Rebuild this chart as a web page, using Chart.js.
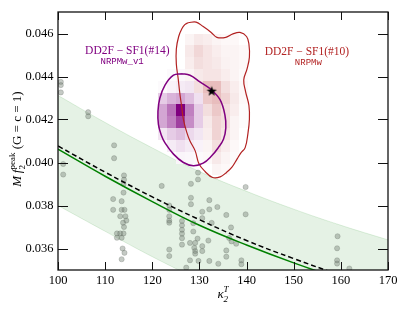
<!DOCTYPE html>
<html>
<head>
<meta charset="utf-8">
<script src="https://cdn.jsdelivr.net/npm/chart.js@4.4.0/dist/chart.umd.min.js"></script>
<style>
  html, body { margin: 0; padding: 0; background: #fff; }
</style>
</head>
<body>
<canvas id="myChart" width="407" height="309"></canvas>
<script>
// axis ticks
const xTicks = [100, 110, 120, 130, 140, 150, 160, 170];
const yTicks = [0.036, 0.038, 0.040, 0.042, 0.044, 0.046];

// fit curves, read at kappa = 100..170
const kappa = [100, 110, 120, 130, 140, 150, 160, 170];
const fitGreen = [0.04062, 0.03936, 0.03818, 0.03708, 0.03616, 0.03533, 0.03458, 0.0339];
const fitDashed = [0.04077, 0.03955, 0.03840, 0.03734, 0.03637, 0.03553, 0.03475, 0.0340];
const bandUpper = [0.04312, 0.04186, 0.04068, 0.03958, 0.03866, 0.03783, 0.03708, 0.0364];
const bandLower = [0.0380, 0.0368, 0.03562, 0.03455, 0.0336, 0.0328, 0.0320, 0.0314];

// simulation points
const simX = [100.6, 100.6, 100.6, 106.4, 106.4, 101.1, 101.1,
  111.9, 111.9, 114.0, 114.0, 113.9, 113.9, 111.7, 113.5, 111.7, 113.5, 114.1, 113.2, 114.3, 114.5, 113.8, 114.0,
  112.5, 113.2, 113.9, 112.5, 113.5, 113.7, 114.1, 113.5,
  122.0, 129.7, 129.7, 128.2, 128.2, 128.2, 132.1, 132.1, 133.8,
  123.6, 123.6, 123.6, 123.6, 123.6, 130.6, 130.6,
  126.3, 126.3, 126.3, 126.3, 126.3, 126.3, 128.7, 128.7, 132.6, 135.7, 136.7, 139.8, 139.8,
  129.6, 128.0, 129.1, 128.9, 129.1, 129.1, 130.6, 130.6, 131.9, 123.6, 123.6,
  136.3, 136.8, 137.8, 135.7, 135.7, 128.0, 129.8, 132.1, 134.0, 127.2, 138.9, 138.9,
  159.3, 159.2, 159.2, 159.2, 161.8];
const simY = [0.04375, 0.04360, 0.04326, 0.04234, 0.04215, 0.03993, 0.03944,
  0.0408, 0.0402, 0.0394, 0.0392, 0.0390, 0.0386, 0.0383, 0.0382, 0.0378, 0.0378, 0.0378, 0.0375, 0.0375, 0.0373, 0.0372, 0.0370,
  0.0367, 0.0367, 0.0367, 0.0365, 0.0365, 0.0360, 0.0358, 0.0355,
  0.03891, 0.03953, 0.03921, 0.03901, 0.03836, 0.03806, 0.03825, 0.03782, 0.03793,
  0.0380, 0.0378, 0.0375, 0.0373, 0.0372, 0.03771, 0.03741,
  0.03728, 0.03708, 0.03687, 0.03669, 0.03648, 0.03618, 0.03718, 0.03679, 0.03719, 0.03756, 0.03698, 0.03886, 0.03759,
  0.03646, 0.03626, 0.03626, 0.03603, 0.03588, 0.03576, 0.03611, 0.03588, 0.03637, 0.03595, 0.03565,
  0.03649, 0.03633, 0.03622, 0.03591, 0.03562, 0.03545, 0.03542, 0.03542, 0.03529, 0.03511, 0.03545, 0.03527,
  0.03657, 0.03601, 0.03545, 0.03530, 0.03507];

// 2D histogram bins (edges)
const binX = [121.3, 123.2, 125.1, 127.0, 128.9, 130.8, 132.7, 134.6, 136.5, 138.4, 140.3];
const binY = [0.04655, 0.046, 0.04545, 0.0449, 0.04435, 0.0438, 0.04325, 0.0427, 0.04215, 0.0416, 0.04105, 0.0405, 0.03995, 0.0394];

const histV1 = [
  [0, 0, 0, 0, 0, 0, 0, 0, 0, 0],
  [0, 0, 0, 0, 0, 0, 0, 0, 0, 0],
  [0, 0, 0, 0, 0, 0, 0, 0, 0, 0],
  [0, 0, 0, 0, 0, 0, 0, 0, 0, 0],
  [0, 0.02, 0.03, 0.03, 0.02, 0, 0, 0, 0, 0],
  [0.02, 0.05, 0.08, 0.1, 0.05, 0.03, 0, 0, 0, 0],
  [0.2, 0.3, 0.35, 0.25, 0.12, 0, 0, 0, 0, 0],
  [0.35, 0.55, 1.0, 0.5, 0.2, 0.08, 0, 0, 0, 0],
  [0.35, 0.5, 0.75, 0.45, 0.2, 0.08, 0.03, 0, 0, 0],
  [0.1, 0.2, 0.25, 0.15, 0.1, 0.05, 0.02, 0, 0, 0],
  [0, 0.08, 0.12, 0.08, 0.05, 0.03, 0.02, 0, 0, 0],
  [0, 0, 0.04, 0.03, 0.02, 0.02, 0, 0, 0, 0],
  [0, 0, 0, 0, 0, 0, 0, 0, 0, 0]
];
const histMw = [
  [0, 0, 0, 0, 0, 0, 0, 0, 0, 0],
  [0, 0, 0, 0.05, 0.1, 0.08, 0.05, 0.03, 0.03, 0],
  [0, 0, 0, 0.1, 0.18, 0.12, 0.08, 0.05, 0.05, 0.03],
  [0, 0, 0, 0.08, 0.15, 0.12, 0.1, 0.06, 0.05, 0.03],
  [0, 0, 0, 0.05, 0.1, 0.12, 0.12, 0.08, 0.05, 0.02],
  [0, 0, 0, 0, 0.15, 0.3, 0.3, 0.15, 0.08, 0.03],
  [0, 0, 0, 0, 0, 0.25, 0.3, 0.2, 0.1, 0.03],
  [0, 0, 0, 0, 0, 0.15, 0.25, 0.15, 0.08, 0.02],
  [0, 0, 0, 0, 0, 0.1, 0.2, 0.15, 0.05, 0.02],
  [0, 0, 0, 0, 0, 0.08, 0.2, 0.12, 0.05, 0],
  [0, 0, 0, 0, 0, 0.05, 0.15, 0.08, 0.03, 0],
  [0, 0, 0, 0, 0, 0.03, 0.1, 0.05, 0.02, 0],
  [0, 0, 0, 0, 0, 0, 0.05, 0.03, 0, 0]
];

// contours
const v1CX = [126.2, 128.0, 130.1, 132.6, 134.4, 135.4, 135.6, 135.1, 134.0, 132.6, 130.8, 128.7, 126.6, 124.5, 122.7, 121.9, 121.3, 121.2, 121.6, 122.7, 124.5, 126.2];
const v1CY = [0.04413, 0.04406, 0.04375, 0.04337, 0.04291, 0.04222, 0.04161, 0.04108, 0.04069, 0.04031, 0.03997, 0.03985, 0.04000, 0.04039, 0.04091, 0.04128, 0.04177, 0.04238, 0.04299, 0.0436, 0.04406, 0.04413];
const mwCX = [127.6, 129.3, 130.8, 132.5, 133.7, 135.6, 137.1, 138.6, 140.0, 140.5, 140.6, 140.1, 139.4, 139.8, 140.5, 140.6, 140.3, 139.7, 138.8, 138.0, 136.9, 135.8, 134.4, 132.8, 131.2, 129.9, 129.1, 128.0, 127.3, 126.6, 126.2, 125.8, 125.5, 125.1, 125.1, 125.6, 126.3, 126.9, 127.6];
const mwCY = [0.04650, 0.04653, 0.04632, 0.04605, 0.04582, 0.04582, 0.04598, 0.04605, 0.04586, 0.04550, 0.04490, 0.04435, 0.04384, 0.04329, 0.04265, 0.04201, 0.04137, 0.04069, 0.04045, 0.04017, 0.03978, 0.03955, 0.03933, 0.03930, 0.03958, 0.03994, 0.04054, 0.04100, 0.04141, 0.04201, 0.04265, 0.04329, 0.04389, 0.04458, 0.04528, 0.04586, 0.04623, 0.04641, 0.04650];

const starX = [132.6];
const starY = [0.04334];

const PURPLE = [128, 0, 128];
const RED = [178, 34, 34];
const SERIF = '"Liberation Serif", "DejaVu Serif", serif';

const pts = (xs, ys) => xs.map((v, i) => ({ x: v, y: ys[i] }));

// star marker
const starImg = document.createElement('canvas');
starImg.width = 14; starImg.height = 14;
const sc = starImg.getContext('2d');
sc.beginPath();
for (let i = 0; i < 10; i++) {
  const r = i % 2 ? 2.2 : 5.4;
  const a = -Math.PI / 2 + i * Math.PI / 5;
  sc.lineTo(7 + r * Math.cos(a), 7.6 + r * Math.sin(a));
}
sc.closePath();
sc.fillStyle = '#000';
sc.fill();

function cellColor(base, v) {
  const c = base.map(b => Math.round(255 - v * (255 - b)));
  return 'rgb(' + c.join(',') + ')';
}

const heatPlugin = {
  id: 'heat',
  afterDatasetDraw(chart, args) {
    if (chart.data.datasets[args.index].tag !== 'bandUpper') return;
    const { ctx, scales: { x, y } } = chart;
    ctx.save();
    [[histV1, PURPLE], [histMw, RED]].forEach(([m, rgb]) => {
      m.forEach((row, i) => row.forEach((v, j) => {
        if (!v) return;
        const x0 = Math.round(x.getPixelForValue(binX[j]));
        const x1 = Math.round(x.getPixelForValue(binX[j + 1]));
        const y0 = Math.round(y.getPixelForValue(binY[i]));
        const y1 = Math.round(y.getPixelForValue(binY[i + 1]));
        ctx.fillStyle = cellColor(rgb, v);
        ctx.fillRect(x0, y0, x1 - x0, y1 - y0);
      }));
    });
    ctx.restore();
  }
};

function drawRich(ctx, segs, cx, cy, rot) {
  ctx.save();
  ctx.translate(cx, cy);
  if (rot) ctx.rotate(rot);
  ctx.textAlign = 'left';
  ctx.textBaseline = 'alphabetic';
  const widths = segs.map(s => {
    ctx.font = s.font;
    if (s.t !== undefined) return ctx.measureText(s.t).width;
    return Math.max(s.sup ? ctx.measureText(s.sup).width : 0, s.sub ? ctx.measureText(s.sub).width : 0);
  });
  let xx = -widths.reduce((a, b) => a + b, 0) / 2;
  segs.forEach((s, i) => {
    ctx.font = s.font;
    if (s.t !== undefined) ctx.fillText(s.t, xx, 0);
    else {
      if (s.sup) ctx.fillText(s.sup, xx, s.supY);
      if (s.sub) ctx.fillText(s.sub, xx, s.subY);
    }
    xx += widths[i];
  });
  ctx.restore();
}

const framePlugin = {
  id: 'frame',
  afterDraw(chart) {
    const { ctx, chartArea: { left, right, top, bottom }, scales: { x, y } } = chart;
    ctx.save();
    ctx.strokeStyle = '#111';
    ctx.lineWidth = 1;
    ctx.beginPath();
    xTicks.forEach(v => {
      const px = Math.round(x.getPixelForValue(v)) + 0.5;
      ctx.moveTo(px, bottom); ctx.lineTo(px, bottom - 8);
      ctx.moveTo(px, top); ctx.lineTo(px, top + 8);
    });
    yTicks.forEach(v => {
      const py = Math.round(y.getPixelForValue(v)) + 0.5;
      ctx.moveTo(left, py); ctx.lineTo(left + 10, py);
      ctx.moveTo(right, py); ctx.lineTo(right - 10, py);
    });
    ctx.stroke();
    ctx.lineWidth = 1.3;
    ctx.strokeRect(left, top, right - left, bottom - top);

    // annotations
    ctx.textAlign = 'center';
    ctx.textBaseline = 'middle';
    ctx.fillStyle = 'purple';
    ctx.font = '11.5px ' + SERIF;
    ctx.fillText('DD2F \u2212 SF1(#14)', x.getPixelForValue(114.7), y.getPixelForValue(0.04519));
    ctx.font = '9px "Liberation Mono", monospace';
    ctx.fillText('NRPMw_v1', x.getPixelForValue(113.6), y.getPixelForValue(0.04468));
    ctx.fillStyle = 'firebrick';
    ctx.font = '11.5px ' + SERIF;
    ctx.fillText('DD2F \u2212 SF1(#10)', x.getPixelForValue(152.8), y.getPixelForValue(0.04515));
    ctx.font = '9px "Liberation Mono", monospace';
    ctx.fillText('NRPMw', x.getPixelForValue(153.1), y.getPixelForValue(0.04464));

    // axis titles
    ctx.fillStyle = '#000';
    const it = 'italic 13px ' + SERIF, rm = '13px ' + SERIF, small = '9px ' + SERIF, smallIt = 'italic 9px ' + SERIF;
    drawRich(ctx, [
      { t: '\u03ba', font: it },
      { sup: 'T', sub: '2', font: smallIt, supY: -6.5, subY: 3.5 }
    ], 223, 298, 0);
    drawRich(ctx, [
      { t: 'M', font: it },
      { t: '\u2009', font: rm },
      { t: 'f', font: it },
      { sup: 'peak', sub: '2', font: small, supY: -6.5, subY: 3.5 },
      { t: ' (G = c = 1)', font: rm }
    ], 21, 139, -Math.PI / 2);
    ctx.restore();
  }
};

const ctx = document.getElementById('myChart');
const tickFont = { family: SERIF, size: 12.5 };

new Chart(ctx, {
  type: 'scatter',
  data: {
    datasets: [
      { label: 'star', data: pts(starX, starY), pointStyle: starImg, order: 0 },
      { label: 'v1 contour', data: pts(v1CX, v1CY), showLine: true, tension: 0.4, pointRadius: 0,
        borderColor: 'rgb(128,0,128)', borderWidth: 1.5, order: 1 },
      { label: 'Mw contour', data: pts(mwCX, mwCY), showLine: true, tension: 0.4, pointRadius: 0,
        borderColor: 'rgb(178,34,34)', borderWidth: 1.2, order: 1 },
      { label: 'fit', data: pts(kappa, fitGreen), showLine: true, tension: 0.4, pointRadius: 0,
        borderColor: 'green', borderWidth: 1.5, order: 2 },
      { label: 'fit dashed', data: pts(kappa, fitDashed), showLine: true, tension: 0.4, pointRadius: 0,
        borderColor: '#000', borderWidth: 1.5, borderDash: [5, 3], order: 2 },
      { label: 'sims', data: pts(simX, simY), pointRadius: 2.6, borderWidth: 0.7,
        backgroundColor: 'rgba(110,122,110,0.4)', borderColor: 'rgba(90,100,90,0.35)', order: 3 },
      { label: 'band up', tag: 'bandUpper', data: pts(kappa, bandUpper), showLine: true, tension: 0.4, pointRadius: 0,
        borderColor: 'rgba(0,128,0,0.12)', borderWidth: 1, backgroundColor: 'rgba(40,150,40,0.12)', fill: '+1', order: 4 },
      { label: 'band low', data: pts(kappa, bandLower), showLine: true, tension: 0.4, pointRadius: 0,
        borderColor: 'rgba(0,128,0,0.12)', borderWidth: 1, order: 4 }
    ]
  },
  options: {
    responsive: false,
    devicePixelRatio: 1,
    animation: false,
    layout: { padding: { top: 8, right: 19, left: 0, bottom: 0 } },
    scales: {
      x: {
        type: 'linear', min: 100, max: 170,
        grid: { display: false, drawTicks: false },
        border: { display: false },
        ticks: { font: tickFont, color: '#000', padding: 3.5, maxRotation: 0, autoSkip: false,
          callback: v => String(v) },
        afterBuildTicks: s => { s.ticks = xTicks.map(v => ({ value: v })); },
        afterFit: s => { s.height = 39; }
      },
      y: {
        type: 'linear', min: 0.035, max: 0.047,
        grid: { display: false, drawTicks: false },
        border: { display: false },
        ticks: { font: tickFont, color: '#000', padding: 4.5, autoSkip: false,
          callback: v => v.toFixed(3) },
        afterBuildTicks: s => { s.ticks = yTicks.map(v => ({ value: v })); },
        afterFit: s => { s.width = 58; }
      }
    },
    plugins: {
      legend: { display: false },
      tooltip: { enabled: false }
    }
  },
  plugins: [heatPlugin, framePlugin]
});
</script>
</body>
</html>
